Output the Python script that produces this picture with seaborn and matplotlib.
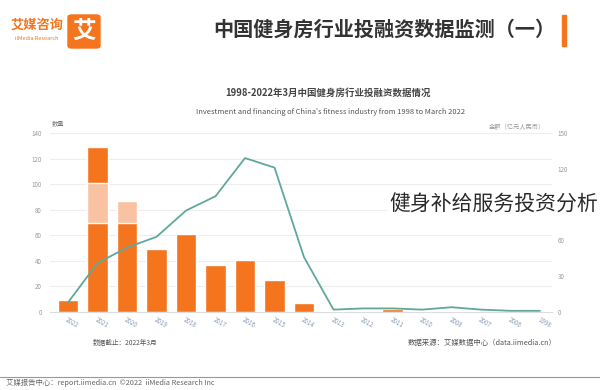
import numpy as np
import pandas as pd
import matplotlib
matplotlib.use('Agg')
import matplotlib.pyplot as plt
import seaborn as sns
from matplotlib.patches import FancyBboxPatch, Rectangle

# =============================================================================
# DATOS (orden tal como aparece: 2022 -> 1998)
# =============================================================================
anios = ['2022', '2021', '2020', '2019', '2018', '2017', '2016', '2015', '2014',
         '2013', '2012', '2011', '2010', '2008', '2007', '2006', '1998']
barra_base = [9, 70, 70, 49, 61, 37, 41, 25, 7, 0.6, 0.6, 2, 1, 1, 0.6, 0.4, 0.6]
barra_clara = [0, 31, 17, 0, 0, 0, 0, 0, 0, 0, 0, 0, 0, 0, 0, 0, 0]
barra_superior = [0, 28, 0, 0, 0, 0, 0, 0, 0, 0, 0, 0, 0, 0, 0, 0, 0]
linea_valores = [8, 41, 54, 63, 85, 97, 129, 121, 46, 2, 3, 3, 2, 4, 2, 1, 1]

ticks_izq = [0, 20, 40, 60, 80, 100, 120, 140]
ticks_der = [0, 30, 60, 90, 120, 150]
# la etiqueta 90 queda tapada por el texto superpuesto en la referencia
etiquetas_der = ['0', '30', '60', '', '120', '150']

df = pd.DataFrame({
    'anio': anios,
    'base': barra_base,
    'media': np.array(barra_base) + np.array(barra_clara),
    'total': np.array(barra_base) + np.array(barra_clara) + np.array(barra_superior),
    'pos': np.arange(len(anios)),
    'linea': linea_valores,
})

NARANJA = '#F5741E'
NARANJA_CLARO = '#F9C3A3'
VERDE = '#5FA89B'
GRIS = '#9a9a9a'

sns.set_theme(style='white')
plt.rcParams['font.family'] = ['Noto Sans CJK SC', 'DejaVu Sans']

fig = plt.figure(figsize=(6, 3.9), dpi=100)

# =============================================================================
# CABECERA
# =============================================================================
fig.patches.append(FancyBboxPatch((68 / 600, 1 - 48 / 390), 32 / 600, 33 / 390,
                                  boxstyle='round,pad=0,rounding_size=0.006',
                                  transform=fig.transFigure, color=NARANJA))
fig.text(84 / 600, 1 - 31 / 390, '艾', color='white', fontsize=17, weight='bold',
         ha='center', va='center')
fig.text(37 / 600, 1 - 25 / 390, '艾媒咨询', color=NARANJA, fontsize=9.5, weight='bold',
         ha='center', va='center')
fig.text(37 / 600, 1 - 39 / 390, 'iiMedia Research', color=NARANJA, fontsize=4,
         ha='center', va='center')
fig.text(555 / 600, 1 - 29 / 390, '中国健身房行业投融资数据监测（一）', color='#333333',
         fontsize=14.5, weight='bold', ha='right', va='center')
fig.patches.append(Rectangle((562 / 600, 1 - 46 / 390), 4 / 600, 31 / 390,
                             transform=fig.transFigure, color=NARANJA))

# titulo del grafico
fig.text(328 / 600, 1 - 93 / 390, '1998-2022年3月中国健身房行业投融资数据情况',
         color='#444444', fontsize=6.8, weight='bold', ha='center', va='center')
fig.text(331 / 600, 1 - 112 / 390,
         "Investment and financing of China's fitness industry from 1998 to March 2022",
         color='#555555', fontsize=5.4, ha='center', va='center')

# =============================================================================
# GRAFICO PRINCIPAL
# =============================================================================
ax = fig.add_axes([50.3 / 600, 1 - 312 / 390, 501.5 / 600, 179 / 390])

sns.barplot(data=df, x='anio', y='total', color=NARANJA, width=0.71, saturation=1,
            ax=ax, zorder=2)
sns.barplot(data=df, x='anio', y='media', color=NARANJA_CLARO, width=0.71, saturation=1,
            ax=ax, zorder=3)
sns.barplot(data=df, x='anio', y='base', color=NARANJA, width=0.71, saturation=1,
            ax=ax, zorder=4)

ax.set_xlim(-0.6, len(anios) - 0.6)
ax.set_ylim(0, 140)
ax.set_yticks(ticks_izq)
ax.set_yticklabels([str(t) for t in ticks_izq], fontsize=4.5, color=GRIS)
ax.set_xticks(range(len(anios)))
ax.set_xticklabels(anios, rotation=-30, ha='left', rotation_mode='anchor',
                   fontsize=4.5, color='#8a9ab5')
ax.tick_params(axis='x', length=0, pad=3)
ax.tick_params(axis='y', length=0, pad=6)
ax.set_xlabel('')
ax.set_ylabel('')
ax.grid(axis='y', color='#eeeeee', linewidth=0.8, zorder=0)
ax.set_axisbelow(True)
for s in ['top', 'right', 'left']:
    ax.spines[s].set_visible(False)
ax.spines['bottom'].set_color('#dddddd')
ax.spines['bottom'].set_linewidth(0.8)

ax2 = ax.twinx()
sns.lineplot(data=df, x='pos', y='linea', color=VERDE, linewidth=1.3, ax=ax2, zorder=5)
ax2.set_ylim(0, 150)
ax2.set_yticks(ticks_der)
ax2.set_yticklabels(etiquetas_der, fontsize=4.5, color=GRIS)
ax2.tick_params(axis='y', length=0, pad=4)
ax2.set_xlabel('')
ax2.set_ylabel('')
ax2.grid(False)
for s in ['top', 'right', 'left', 'bottom']:
    ax2.spines[s].set_visible(False)

fig.text(52 / 600, 1 - 123 / 390, '数量', color='#777777', fontsize=4.5,
         ha='left', va='center')
fig.text(545 / 600, 1 - 127 / 390, '金额（亿元人民币）', color='#999999', fontsize=4.5,
         ha='right', va='center')

# =============================================================================
# PIE DE GRAFICO
# =============================================================================
fig.text(93 / 600, 1 - 343 / 390, '数据截止：2022年3月', color='#555555', fontsize=4.8,
         ha='left', va='center')
fig.text(557 / 600, 1 - 343 / 390, '数据来源：艾媒数据中心（data.iimedia.cn）',
         color='#555555', fontsize=5.3, ha='right', va='center')

fig.lines.append(plt.Line2D([0, 1], [1 - 377 / 390, 1 - 377 / 390],
                            transform=fig.transFigure, color='#999999', linewidth=0.8))
fig.text(6 / 600, 1 - 383 / 390, '艾媒报告中心：report.iimedia.cn  ©2022  iiMedia Research Inc',
         color='#666666', fontsize=5.3, ha='left', va='center')

# texto superpuesto
fig.text(598 / 600, 1 - 205 / 390, '健身补给服务投资分析', color='#2a2a2a', fontsize=15,
         ha='right', va='center',
         bbox=dict(facecolor='white', edgecolor='none', pad=1.5))

fig.savefig('out.png', dpi=100)
